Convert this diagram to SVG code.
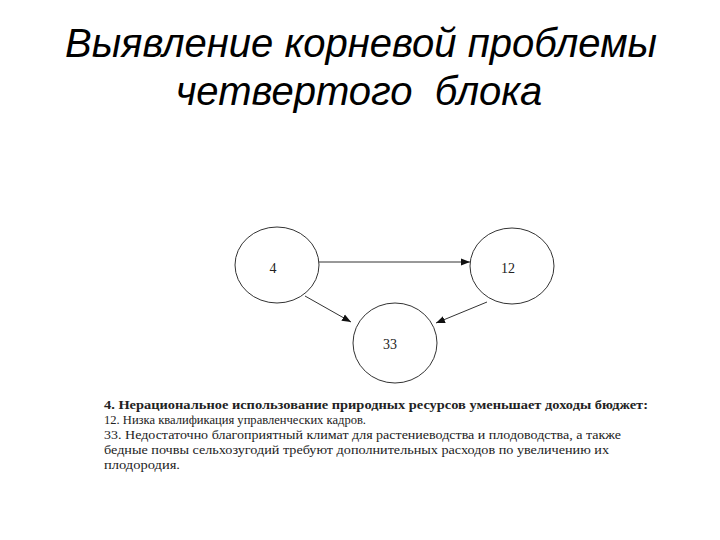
<svg xmlns="http://www.w3.org/2000/svg" width="720" height="540" viewBox="0 0 720 540">
<style>
.title{font-family:"Liberation Sans",Arial,sans-serif;font-style:italic;font-size:40px;fill:#000;text-anchor:middle;white-space:pre}
.node{fill:#fff;stroke:#333;stroke-width:1}
.lbl{font-family:"Liberation Serif","Times New Roman",serif;font-size:14px;fill:#222;text-anchor:middle}
.edge{stroke:#333;stroke-width:1;fill:none;marker-end:url(#ah)}
.body{font-family:"Liberation Serif","Times New Roman",serif;font-size:11.5px;fill:#222}
</style>
<defs>
<marker id="ah" viewBox="0 0 10 10" refX="10" refY="5" markerWidth="9" markerHeight="9" markerUnits="userSpaceOnUse" orient="auto">
<path d="M0,1 L10,5 L0,9 z" fill="#111"/>
</marker>
</defs>
<rect width="720" height="540" fill="#fff"/>
<text class="title" x="361" y="57">Выявление корневой проблемы</text>
<text class="title" x="359" y="105" xml:space="preserve">четвертого  блока</text>
<g id="connectors">
<line class="edge" x1="319" y1="262" x2="470" y2="262"/>
<line class="edge" x1="305" y1="296" x2="351" y2="322"/>
<line class="edge" x1="487" y1="302" x2="436" y2="323"/>
</g>
<g id="node-4">
<ellipse class="node" cx="277" cy="265" rx="42" ry="38"/>
<text class="lbl" x="273" y="273">4</text>
</g>
<g id="node-12">
<ellipse class="node" cx="512" cy="266" rx="42" ry="38"/>
<text class="lbl" x="508" y="273">12</text>
</g>
<g id="node-33">
<ellipse class="node" cx="395" cy="343" rx="42" ry="40"/>
<text class="lbl" x="390" y="349">33</text>
</g>
<g id="caption">
<text class="body" x="104" y="409" font-weight="bold" textLength="544" lengthAdjust="spacingAndGlyphs">4. Нерациональное использование природных ресурсов уменьшает доходы бюджет:</text>
<text class="body" x="104" y="424" textLength="262" lengthAdjust="spacingAndGlyphs">12. Низка квалификация управленческих кадров.</text>
<text class="body" x="104" y="439" textLength="517" lengthAdjust="spacingAndGlyphs">33. Недостаточно благоприятный климат для растениеводства и плодоводства, а также</text>
<text class="body" x="104" y="454" textLength="505" lengthAdjust="spacingAndGlyphs">бедные почвы сельхозугодий требуют дополнительных расходов по увеличению их</text>
<text class="body" x="104" y="469" textLength="76" lengthAdjust="spacingAndGlyphs">плодородия.</text>
</g>
</svg>
